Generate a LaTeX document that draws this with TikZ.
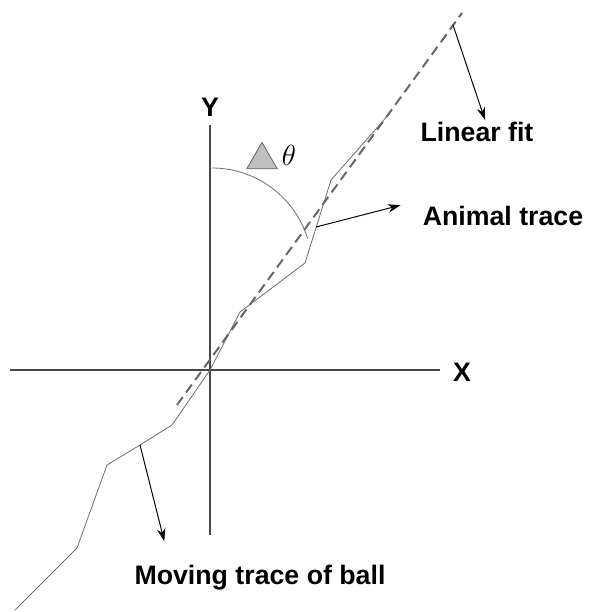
\documentclass[tikz,border=0pt]{standalone}
\usepackage{fontspec}
\setmainfont{Liberation Sans}
\usetikzlibrary{arrows.meta,shapes.geometric}
\begin{document}
\begin{tikzpicture}[x=0.025cm,y=-0.025cm,
	axis/.style={draw=black!72,line width=1.5pt},
	trace/.style={draw=black!55,line width=0.6pt},
	fitline/.style={draw=black!60,line width=1.4pt,dash pattern=on 7pt off 4pt},
	pointer/.style={-{Stealth[length=9pt,width=6pt]},line width=0.7pt},
	lbl/.style={font=\fontsize{19}{22}\selectfont\bfseries,inner sep=0pt}]
	\useasboundingbox (0,0) rectangle (589,612);
	% axes
	\coordinate (xl) at (10,370);
	\coordinate (xr) at (440,370);
	\coordinate (yb) at (210,535);
	\coordinate (yt) at (210,125);
	\draw[axis] (xl) -- (xr);
	\draw[axis] (yb) -- (yt);
	\node[lbl] (ylab) at (210,107) {Y};
	\node[lbl] (xlab) at (462,372) {X};
	% trace of the ball
	\coordinate (t1) at (15,610);
	\coordinate (t2) at (77,548);
	\coordinate (t3) at (107,465);
	\coordinate (t4) at (140,445);
	\coordinate (t5) at (172,425);
	\coordinate (o) at (210,370);
	\coordinate (t6) at (240,312);
	\coordinate (t7) at (305,263);
	\coordinate (t8) at (331,180);
	\coordinate (t9) at (390,113);
	\draw[trace] (t1) -- (t2) -- (t3) -- (t4) -- (t5) -- (o) -- (t6) -- (t7) -- (t8) -- (t9);
	% linear fit
	\coordinate (f1) at (177,405);
	\coordinate (f2) at (462,13);
	\draw[fitline] (f1) -- (f2);
	% angle
	\coordinate (a0) at (212,168);
	\draw[draw=black!55,line width=0.6pt] (a0) arc[start angle=-90,end angle=-17,radius=100];
	\node[regular polygon,regular polygon sides=3,minimum size=0.88cm,inner sep=0pt,
		fill=black!25,draw=black!60,line width=0.6pt] (tri) at (262,160) {};
	\node[inner sep=0pt,font=\fontsize{21}{22}\selectfont] (th) at (289,155) {$\theta$};
	% labels
	\node[lbl] (linfit) at (477,132) {Linear fit};
	\node[lbl] (animal) at (503,216) {Animal trace};
	\node[lbl] (ball) at (260,578) {Moving trace of ball};
	\coordinate (lf) at (453,25);
	\coordinate (at) at (316,227);
	\draw[pointer] (lf) -- ([xshift=0.2cm,yshift=0.05cm]linfit.north);
	\draw[pointer] (at) -- ([xshift=-0.55cm,yshift=0.27cm]animal.west);
	\draw[pointer] (t4) -- ([xshift=0.75cm,yshift=0.6cm]ball.north west);
\end{tikzpicture}
\end{document}
